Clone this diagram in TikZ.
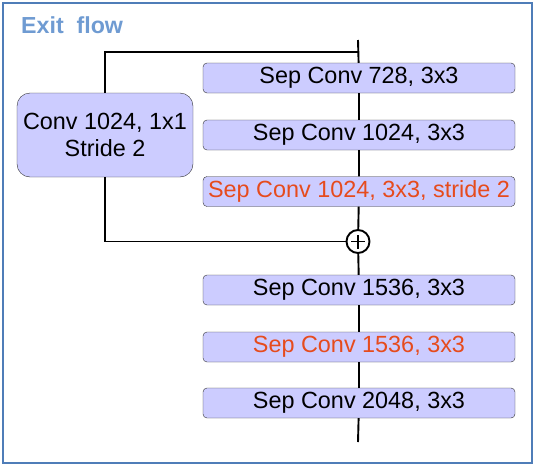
\documentclass[tikz,border=0pt]{standalone}
\usepackage{fontspec}
\setmainfont{Liberation Sans}
\usepackage{tikz}
\usetikzlibrary{positioning,calc}
\definecolor{Frame}{HTML}{4F7DB8}
\definecolor{Title}{HTML}{6F9BD2}
\definecolor{Block}{HTML}{CCCCFF}
\definecolor{Hot}{HTML}{E64B1D}

\begin{document}
\begin{tikzpicture}[x=1pt, y=-1pt,
    every node/.style={font=\fontsize{23.4}{27}\selectfont, align=center},
    sepbox/.style={fill=Block, draw=black!80, rounded corners=4pt,
        minimum width=312pt, minimum height=30pt, inner sep=0pt},
    flow/.style={line width=1.9pt}]
  \useasboundingbox (0,0) rectangle (535,466);
  \draw[Frame, line width=2.2pt] (3,3) rectangle (532,463);
  \node[anchor=west, inner sep=0pt, text=Title, font=\fontsize{23.2}{27}\selectfont\bfseries] (title) at (21,25) {Exit\ \ flow};

  \coordinate (top) at (358,40);
  \coordinate (split) at (358,52);
  \coordinate (out) at (358,442);

  \node[sepbox] (sc1) at (359,78) {Sep Conv 728, 3x3};
  \node[sepbox] (sc2) at (359,135) {Sep Conv 1024, 3x3};
  \node[sepbox, text=Hot] (sc3) at (359,191.5) {Sep Conv 1024, 3x3, stride 2};
  \node[draw, circle, line width=1.9pt, minimum size=23pt, inner sep=0pt,
        path picture={\draw[line width=1.9pt] ($(path picture bounding box.center)+(-7pt,0)$) -- ($(path picture bounding box.center)+(7pt,0)$)
          ($(path picture bounding box.center)+(0,-7pt)$) -- ($(path picture bounding box.center)+(0,7pt)$);}] (add) at (358,241.5) {};
  \node[sepbox] (sc4) at (359,290) {Sep Conv 1536, 3x3};
  \node[sepbox, text=Hot] (sc5) at (359,347) {Sep Conv 1536, 3x3};
  \node[sepbox] (sc6) at (359,403) {Sep Conv 2048, 3x3};

  \node[fill=Block, draw=black!80, rounded corners=13pt,
        minimum width=176pt, minimum height=84pt, inner sep=0pt] (res) at (105,135)
    {Conv 1024, 1x1\\Stride 2};

  % main path
  \draw[flow] (top) -- (sc1) -- (sc2) -- (sc3) -- (add) -- (sc4) -- (sc5) -- (sc6) -- (out);
  % shortcut
  \draw[flow] (split) -| (res);
  \draw[flow] (res) |- (add);
\end{tikzpicture}
\end{document}
